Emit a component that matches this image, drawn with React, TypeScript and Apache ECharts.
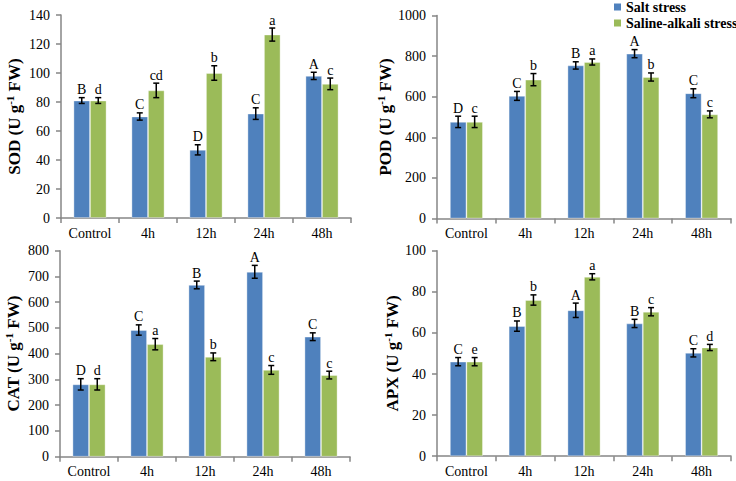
import React, { useEffect, useRef } from "react";
import * as echarts from "echarts";

const categories = ["Control", "4h", "12h", "24h", "48h"];
const seriesNames = ["Salt stress", "Saline-alkali stress"];

const sodSalt = [81, 70, 47, 72, 98];
const sodSaltErr = [2, 2.5, 3.5, 4, 2.5];
const sodSaltLetters = ["B", "C", "D", "C", "A"];
const sodAlk = [81, 88, 100, 126.5, 92.5];
const sodAlkErr = [2, 5, 5, 4.5, 4];
const sodAlkLetters = ["d", "cd", "b", "a", "c"];

const podSalt = [476, 604, 754, 812, 617];
const podSaltErr = [28, 22, 18, 20, 22];
const podSaltLetters = ["D", "C", "B", "A", "C"];
const podAlk = [476, 684, 771, 697, 513];
const podAlkErr = [28, 30, 15, 20, 17];
const podAlkLetters = ["c", "b", "a", "b", "c"];

const catSalt = [281, 492, 667, 718, 466];
const catSaltErr = [22, 20, 15, 25, 15];
const catSaltLetters = ["D", "C", "B", "A", "C"];
const catAlk = [281, 437, 388, 337, 317];
const catAlkErr = [22, 22, 15, 17, 15];
const catAlkLetters = ["d", "a", "b", "c", "c"];

const apxSalt = [46, 63.3, 71, 64.6, 50.3];
const apxSaltErr = [2, 2.5, 3.5, 2, 2];
const apxSaltLetters = ["C", "B", "A", "B", "C"];
const apxAlk = [46, 76, 87.3, 70.3, 52.9];
const apxAlkErr = [2, 2.5, 1.5, 2, 1.5];
const apxAlkLetters = ["e", "b", "a", "c", "d"];

const panelNames = ["SOD", "POD", "CAT", "APX"];
const panelMax = [140, 1000, 800, 100];
const panelInterval = [20, 200, 100, 20];

const FONT = "Liberation Serif";
const BLUE = "#4F81BD";
const GREEN = "#9BBB59";
const AXIS = "#868686";
const BAR_W = 16.5;

const panels = [
  { salt: sodSalt, saltErr: sodSaltErr, saltL: sodSaltLetters, alk: sodAlk, alkErr: sodAlkErr, alkL: sodAlkLetters },
  { salt: podSalt, saltErr: podSaltErr, saltL: podSaltLetters, alk: podAlk, alkErr: podAlkErr, alkL: podAlkLetters },
  { salt: catSalt, saltErr: catSaltErr, saltL: catSaltLetters, alk: catAlk, alkErr: catAlkErr, alkL: catAlkLetters },
  { salt: apxSalt, saltErr: apxSaltErr, saltL: apxSaltLetters, alk: apxAlk, alkErr: apxAlkErr, alkL: apxAlkLetters },
];

const grids = [
  { left: 61, top: 15, width: 290, height: 203 },
  { left: 437, top: 15.5, width: 294, height: 203 },
  { left: 60, top: 250.7, width: 290, height: 206 },
  { left: 437, top: 250.7, width: 294, height: 205.5 },
];

function errorSeries(gi: number, vals: number[], errs: number[], letters: string[], side: number) {
  return {
    type: "custom",
    xAxisIndex: gi,
    yAxisIndex: gi,
    silent: true,
    z: 10,
    encode: { x: 0, y: 1 },
    data: vals.map((v, i) => [i, v, errs[i]]),
    renderItem: (params: any, api: any) => {
      const i = api.value(0);
      const v = api.value(1);
      const e = api.value(2);
      const letter = letters[params.dataIndex];
      const top = api.coord([i, v + e]);
      const bot = api.coord([i, v - e]);
      const x = top[0] + side * (BAR_W / 2);
      const lineStyle = { stroke: "#000", lineWidth: 1.5 };
      return {
        type: "group",
        children: [
          { type: "line", shape: { x1: x, y1: top[1], x2: x, y2: bot[1] }, style: lineStyle },
          { type: "line", shape: { x1: x - 3, y1: top[1], x2: x + 3, y2: top[1] }, style: lineStyle },
          { type: "line", shape: { x1: x - 3, y1: bot[1], x2: x + 3, y2: bot[1] }, style: lineStyle },
          {
            type: "text",
            style: {
              text: letter,
              x: x,
              y: top[1] - 1,
              align: "center",
              verticalAlign: "bottom",
              fontSize: 14,
              fontFamily: FONT,
              fill: "#000",
            },
          },
        ],
      };
    },
  };
}

export default function App() {
  const ref = useRef<HTMLDivElement>(null);
  useEffect(() => {
    if (!ref.current) return;
    const chart = echarts.init(ref.current, undefined, { renderer: "svg" });
    const series: any[] = [];
    panels.forEach((p, gi) => {
      series.push({
        type: "bar",
        name: seriesNames[0],
        xAxisIndex: gi,
        yAxisIndex: gi,
        data: p.salt,
        barWidth: BAR_W,
        barGap: "0%",
        itemStyle: { color: BLUE, borderColor: "rgba(255,255,255,0.45)", borderWidth: 0.8 },
      });
      series.push({
        type: "bar",
        name: seriesNames[1],
        xAxisIndex: gi,
        yAxisIndex: gi,
        data: p.alk,
        barWidth: BAR_W,
        barGap: "0%",
        itemStyle: { color: GREEN, borderColor: "rgba(255,255,255,0.45)", borderWidth: 0.8 },
      });
      series.push(errorSeries(gi, p.salt, p.saltErr, p.saltL, -1));
      series.push(errorSeries(gi, p.alk, p.alkErr, p.alkL, 1));
    });

    chart.setOption({
      animation: false,
      backgroundColor: "#fff",
      textStyle: { fontFamily: FONT },
      legend: {
        data: seriesNames.map((n, k) => ({ name: n, itemStyle: { color: k === 0 ? BLUE : GREEN, borderWidth: 0 } })),
        orient: "vertical",
        left: 614,
        top: 0,
        padding: 0,
        itemWidth: 7,
        itemHeight: 7,
        itemGap: 2,
        icon: "rect",
        textStyle: { fontFamily: FONT, fontSize: 14, fontWeight: "bold", color: "#000" },
      },
      grid: grids,
      xAxis: grids.map((_, gi) => ({
        type: "category",
        gridIndex: gi,
        data: categories,
        axisLine: { lineStyle: { color: AXIS, width: 1.5 } },
        axisTick: { show: true, length: 5, lineStyle: { color: AXIS, width: 1.5 } },
        axisLabel: { color: "#000", fontSize: 14, fontFamily: FONT, margin: 8 },
      })),
      yAxis: grids.map((_, gi) => ({
        type: "value",
        gridIndex: gi,
        min: 0,
        max: panelMax[gi],
        interval: panelInterval[gi],
        splitLine: { show: false },
        axisLine: { show: true, lineStyle: { color: AXIS, width: 1.5 } },
        axisTick: { show: true, length: 5, lineStyle: { color: AXIS, width: 1.5 } },
        axisLabel: { color: "#000", fontSize: 14, fontFamily: FONT, margin: 11, formatter: (v: number) => String(v) },
        name: `{b|${panelNames[gi]} (U g}{s|-1}{b| FW)}`,
        nameLocation: "middle",
        nameRotate: 90,
        nameGap: gi % 2 === 0 ? 37 : 34,
        nameTextStyle: {
          fontFamily: FONT,
          rich: {
            b: { fontSize: 17, fontWeight: "bold", fontFamily: FONT, color: "#000", lineHeight: 20 },
            s: { fontSize: 11, fontWeight: "bold", fontFamily: FONT, color: "#000", lineHeight: 11, verticalAlign: "top" },
          },
        },
      })),
      series,
    });
    return () => chart.dispose();
  }, []);
  return (
    <div
      ref={ref}
      style={{ position: "absolute", left: 0, top: 0, width: 736, height: 481 }}
    />
  );
}
